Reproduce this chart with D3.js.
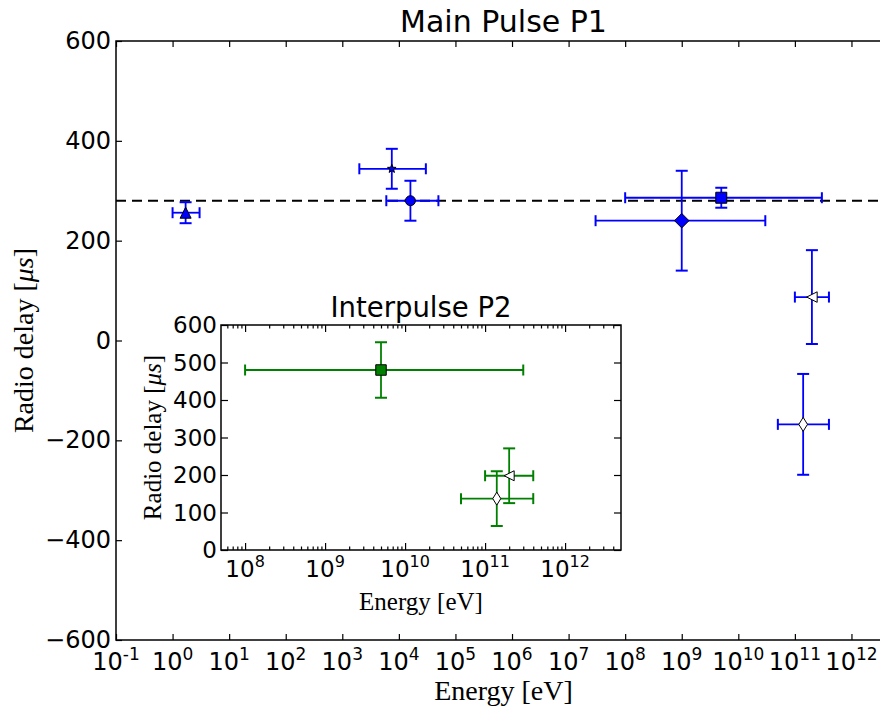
<!DOCTYPE html>
<html>
<head>
<meta charset="utf-8">
<script src="https://cdn.jsdelivr.net/npm/d3@7"></script>
<style>
  html, body { margin: 0; padding: 0; background: #fff; }
  svg { display: block; }
</style>
</head>
<body>
<div id="chart"></div>
<script>
// ---------------- DATA ----------------
// Main pulse P1
const mainEnergy    = [1.7, 7.5e3, 1.6e4, 1e9, 5e9, 2e11, 1.4e11];
const mainEnergyLo  = [1, 2e3, 6e3, 3e7, 1e8, 1e11, 5e10];
const mainEnergyHi  = [3, 3e4, 5e4, 3e10, 3e11, 4e11, 4e11];
const mainDelay     = [256, 344, 280, 240, 286, 87, -168];
const mainDelayErr  = [21, 40, 40, 100, 20, 94, 101];
const meanDelay     = 280;
// Interpulse P2
const interEnergy   = [5e9, 2e11, 1.4e11];
const interEnergyLo = [1e8, 1e11, 5e10];
const interEnergyHi = [3e11, 4e11, 4e11];
const interDelay    = [480, 198, 137];
const interDelayErr = [74, 73, 73];
// Tick values / labels
const mainXTickExp  = [-1,0,1,2,3,4,5,6,7,8,9,10,11,12];
const mainYTicks    = [-600,-400,-200,0,200,400,600];
const interXTickExp = [8,9,10,11,12];
const interYTicks   = [0,100,200,300,400,500,600];

// ---------------- STYLE ----------------
const mainMarker  = ["triangle-up","star","circle","diamond","square","triangle-left","thin-diamond"];
const mainFill    = ["#0000ff","#0000ff","#0000ff","#0000ff","#0000ff","#ffffff","#ffffff"];
const interMarker = ["square","triangle-left","thin-diamond"];
const interFill   = ["#008000","#ffffff","#ffffff"];

const W = 880, H = 714;
const sans = "DejaVu Sans";
const serif = "Liberation Serif";

const svg = d3.select("#chart").append("svg")
  .attr("width", W).attr("height", H)
  .style("overflow", "hidden");
svg.append("rect").attr("width", W).attr("height", H).attr("fill", "#fff");

function markerPath(type, s) {
  const r = s / 2;
  switch (type) {
    case "triangle-up":
      return `M0,${-r}L${r},${r}L${-r},${r}Z`;
    case "triangle-left":
      return `M${-r},0L${r},${-r}L${r},${r}Z`;
    case "circle":
      return `M${r},0A${r},${r} 0 1,1 ${-r},0A${r},${r} 0 1,1 ${r},0Z`;
    case "square":
      return `M${-r},${-r}H${r}V${r}H${-r}Z`;
    case "diamond":
      return `M0,${-r}L${r},0L0,${r}L${-r},0Z`;
    case "thin-diamond":
      return `M0,${-r}L${r*0.62},0L0,${r}L${-r*0.62},0Z`;
    case "star": {
      let p = "";
      for (let i = 0; i < 10; i++) {
        const rr = i % 2 === 0 ? r : r * 0.42;
        const a = -Math.PI / 2 + i * Math.PI / 5;
        p += (i === 0 ? "M" : "L") + (rr * Math.cos(a)).toFixed(2) + "," + (rr * Math.sin(a)).toFixed(2);
      }
      return p + "Z";
    }
  }
}

function drawPanel(g, cfg) {
  const {x, y, energy, lo, hi, delay, err, markers, fills, color, sizes, lw} = cfg;
  const capW = 6, capH = 5.5;
  energy.forEach((e, i) => {
    const cx = x(e), cy = y(delay[i]);
    const eg = g.append("g").attr("stroke", color).attr("stroke-width", lw).attr("fill", "none");
    eg.append("line").attr("x1", x(lo[i])).attr("x2", x(hi[i])).attr("y1", cy).attr("y2", cy);
    eg.append("line").attr("x1", cx).attr("x2", cx).attr("y1", y(delay[i] - err[i])).attr("y2", y(delay[i] + err[i]));
    [x(lo[i]), x(hi[i])].forEach(px =>
      eg.append("line").attr("x1", px).attr("x2", px).attr("y1", cy - capH).attr("y2", cy + capH).attr("stroke-width", 2));
    [y(delay[i] - err[i]), y(delay[i] + err[i])].forEach(py =>
      eg.append("line").attr("x1", cx - capW).attr("x2", cx + capW).attr("y1", py).attr("y2", py).attr("stroke-width", 2));
  });
  energy.forEach((e, i) => {
    g.append("path")
      .attr("d", markerPath(markers[i], sizes[markers[i]]))
      .attr("transform", `translate(${x(e)},${y(delay[i])})`)
      .attr("fill", fills[i]).attr("stroke", "#000").attr("stroke-width", 1);
  });
}

function powLabel(g, px, py, exp, fs, raise) {
  const t = g.append("text").attr("x", px).attr("y", py)
    .attr("text-anchor", "middle").attr("font-family", sans).attr("font-size", fs).attr("fill", "#000");
  t.append("tspan").text("10");
  t.append("tspan").attr("dy", -raise).attr("font-size", Math.round(fs * 0.7)).text(exp);
}

// ---------------- MAIN PANEL ----------------
const M = {left: 116, right: 891, top: 41, bottom: 640};
const x = d3.scaleLog().domain([0.1, 5e12]).range([M.left, M.right]);
const y = d3.scaleLinear().domain([-600, 600]).range([M.bottom, M.top]);

const main = svg.append("g");
// ticks (inward)
const mx = mainXTickExp.map(k => Math.pow(10, k));
main.append("g").attr("transform", `translate(0,${M.bottom})`)
  .call(d3.axisBottom(x).tickValues(mx).tickSize(-6).tickFormat(""))
  .call(a => a.select(".domain").remove());
main.append("g").attr("transform", `translate(0,${M.top})`)
  .call(d3.axisTop(x).tickValues(mx).tickSize(-6).tickFormat(""))
  .call(a => a.select(".domain").remove());
main.append("g").attr("transform", `translate(${M.left},0)`)
  .call(d3.axisLeft(y).tickValues(mainYTicks).tickSize(-6).tickFormat(""))
  .call(a => a.select(".domain").remove());
main.append("g").attr("transform", `translate(${M.right},0)`)
  .call(d3.axisRight(y).tickValues(mainYTicks).tickSize(-6).tickFormat(""))
  .call(a => a.select(".domain").remove());
main.selectAll(".tick line").attr("stroke", "#000").attr("stroke-width", 1.2);

// tick labels
mainXTickExp.forEach(k => powLabel(main, x(Math.pow(10, k)), 670, String(k), 24, 10));
mainYTicks.forEach(v => {
  main.append("text").attr("x", M.left - 5).attr("y", y(v)).attr("dy", "0.34em")
    .attr("text-anchor", "end").attr("font-family", sans).attr("font-size", 24)
    .text(v < 0 ? "\u2212" + Math.abs(v) : String(v));
});

// dashed mean line
main.append("line").attr("x1", M.left).attr("x2", M.right)
  .attr("y1", y(meanDelay)).attr("y2", y(meanDelay))
  .attr("stroke", "#000").attr("stroke-width", 1.8).attr("stroke-dasharray", "10,6");

drawPanel(main, {
  x, y, energy: mainEnergy, lo: mainEnergyLo, hi: mainEnergyHi, delay: mainDelay, err: mainDelayErr,
  markers: mainMarker, fills: mainFill, color: "#0000ff", lw: 1.8,
  sizes: {"triangle-up": 11, "star": 9, "circle": 10, "diamond": 14.5, "square": 11, "triangle-left": 10.5, "thin-diamond": 14}
});

// spines
main.append("rect").attr("x", M.left).attr("y", M.top)
  .attr("width", M.right - M.left).attr("height", M.bottom - M.top)
  .attr("fill", "none").attr("stroke", "#000").attr("stroke-width", 1.5);

// title & labels
main.append("text").attr("x", (M.left + M.right) / 2).attr("y", 32)
  .attr("text-anchor", "middle").attr("font-family", sans).attr("font-size", 30).text("Main Pulse P1");
main.append("text").attr("x", (M.left + M.right) / 2).attr("y", 700)
  .attr("text-anchor", "middle").attr("font-family", serif).attr("font-size", 28).text("Energy [eV]");
{
  const t = main.append("text").attr("transform", `translate(33,${(M.top + M.bottom) / 2}) rotate(-90)`)
    .attr("text-anchor", "middle").attr("font-family", serif).attr("font-size", 28);
  t.append("tspan").text("Radio delay [");
  t.append("tspan").attr("font-style", "italic").text("\u03bcs");
  t.append("tspan").text("]");
}

// ---------------- INSET PANEL ----------------
const I = {left: 221, right: 621, top: 325, bottom: 550};
const x2 = d3.scaleLog().domain([5e7, 5e12]).range([I.left, I.right]);
const y2 = d3.scaleLinear().domain([0, 600]).range([I.bottom, I.top]);
const ins = svg.append("g");
ins.append("rect").attr("x", I.left).attr("y", I.top)
  .attr("width", I.right - I.left).attr("height", I.bottom - I.top).attr("fill", "#fff");

const ix = interXTickExp.map(k => Math.pow(10, k));
const minor = [];
for (let k = 7; k <= 12; k++) for (let m = 2; m <= 9; m++) {
  const v = m * Math.pow(10, k);
  if (v > 5e7 && v < 5e12) minor.push(v);
}
[["b", I.bottom], ["t", I.top]].forEach(([s, py]) => {
  const ax = s === "b" ? d3.axisBottom : d3.axisTop;
  ins.append("g").attr("transform", `translate(0,${py})`)
    .call(ax(x2).tickValues(ix).tickSize(-7).tickFormat(""))
    .call(a => a.select(".domain").remove());
  ins.append("g").attr("transform", `translate(0,${py})`)
    .call(ax(x2).tickValues(minor).tickSize(-3.5).tickFormat(""))
    .call(a => a.select(".domain").remove());
});
ins.append("g").attr("transform", `translate(${I.left},0)`)
  .call(d3.axisLeft(y2).tickValues(interYTicks).tickSize(-7).tickFormat(""))
  .call(a => a.select(".domain").remove());
ins.append("g").attr("transform", `translate(${I.right},0)`)
  .call(d3.axisRight(y2).tickValues(interYTicks).tickSize(-7).tickFormat(""))
  .call(a => a.select(".domain").remove());
ins.selectAll(".tick line").attr("stroke", "#000").attr("stroke-width", 1.2);

interXTickExp.forEach(k => powLabel(ins, x2(Math.pow(10, k)), 577, String(k), 23, 10));
interYTicks.forEach(v => {
  ins.append("text").attr("x", I.left - 4).attr("y", y2(v)).attr("dy", "0.36em")
    .attr("text-anchor", "end").attr("font-family", sans).attr("font-size", 23).text(String(v));
});

drawPanel(ins, {
  x: x2, y: y2, energy: interEnergy, lo: interEnergyLo, hi: interEnergyHi, delay: interDelay, err: interDelayErr,
  markers: interMarker, fills: interFill, color: "#008000", lw: 1.8,
  sizes: {"square": 10.5, "triangle-left": 10, "thin-diamond": 13}
});

ins.append("rect").attr("x", I.left).attr("y", I.top)
  .attr("width", I.right - I.left).attr("height", I.bottom - I.top)
  .attr("fill", "none").attr("stroke", "#000").attr("stroke-width", 1.5);

ins.append("text").attr("x", (I.left + I.right) / 2).attr("y", 317)
  .attr("text-anchor", "middle").attr("font-family", sans).attr("font-size", 27.5).text("Interpulse P2");
ins.append("text").attr("x", (I.left + I.right) / 2).attr("y", 610)
  .attr("text-anchor", "middle").attr("font-family", serif).attr("font-size", 25).text("Energy [eV]");
{
  const t = ins.append("text").attr("transform", `translate(161,${(I.top + I.bottom) / 2}) rotate(-90)`)
    .attr("text-anchor", "middle").attr("font-family", serif).attr("font-size", 25);
  t.append("tspan").text("Radio delay [");
  t.append("tspan").attr("font-style", "italic").text("\u03bcs");
  t.append("tspan").text("]");
}
</script>
</body>
</html>
